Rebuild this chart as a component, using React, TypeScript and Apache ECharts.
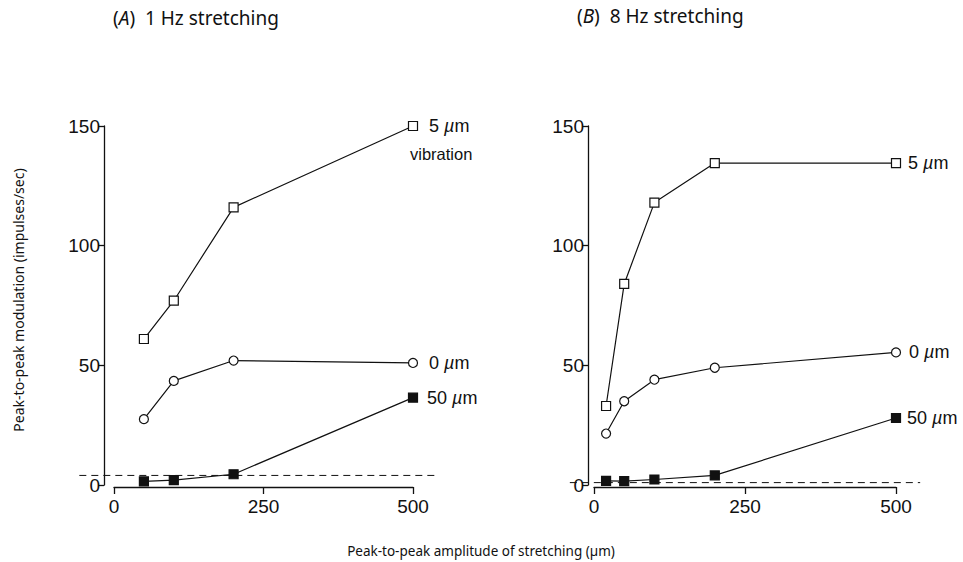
import React, { useEffect, useRef } from "react";
import * as echarts from "echarts";

// Panel A: 1 Hz stretching
const stretchA = [50, 100, 200, 500];
const a5um = [61, 77, 116, 150];
const a0um = [27.5, 43.5, 52, 51];
const a50um = [1.5, 2, 4.5, 36.5];
const baselineA = 4;
const baselineSpanA = [-58, 543];

// Panel B: 8 Hz stretching
const stretchB = [20, 50, 100, 200, 500];
const b5um = [33, 84, 118, 134.5, 134.5];
const b0um = [21.5, 35, 44, 49, 55.4];
const b50um = [1.7, 1.6, 2.3, 4, 28];
const baselineB = 1;
const baselineSpanB = [-40, 540];

const xTicks = [0, 250, 500];
const yTicks = [0, 50, 100, 150];
const seriesNames = ["5 µm", "0 µm", "50 µm"];
const panelTitles = ["(A)  1 Hz stretching", "(B)  8 Hz stretching"];
const yLabel = "Peak-to-peak modulation (impulses/sec)";
const xLabel = "Peak-to-peak amplitude of stretching (µm)";

const INK = "#111";
const SANS = "'Liberation Sans', Arial, sans-serif";
const HUM = "'Noto Sans', 'Open Sans', sans-serif";

function pairs(xs: number[], ys: number[], name: string, dist: number) {
  return ys.map((y, i) => {
    if (i === ys.length - 1) {
      const [num] = name.split(" ");
      return {
        value: [xs[i], y],
        label: {
          show: true,
          position: "right",
          distance: dist,
          formatter: `{n|${num} }{i|µ}{n|m}`,
          rich: {
            n: { fontFamily: SANS, fontSize: 18, color: INK },
            i: { fontFamily: SANS, fontSize: 18, color: INK, fontStyle: "italic" },
          },
        },
      };
    }
    return { value: [xs[i], y] };
  });
}

function lineSeries(idx: number, xs: number[], ys: number[], kind: string, name: string, dist: number) {
  const filled = kind === "filled";
  return {
    type: "line",
    xAxisIndex: idx,
    yAxisIndex: idx,
    data: pairs(xs, ys, name, dist),
    symbol: kind === "circle" ? "circle" : "rect",
    symbolSize: 9,
    lineStyle: { color: INK, width: 1.2 },
    itemStyle: { color: filled ? INK : "#fff", borderColor: INK, borderWidth: 1.2 },
    z: 3,
  };
}

export default function App() {
  const ref = useRef<HTMLDivElement>(null);
  useEffect(() => {
    if (!ref.current) return;
    const chart = echarts.init(ref.current, null, { renderer: "svg" });
    const xAxisBase = {
      type: "value",
      min: xTicks[0],
      max: xTicks[xTicks.length - 1],
      interval: 250,
      offset: 2,
      splitLine: { show: false },
      axisLine: { onZero: false, lineStyle: { color: INK, width: 1.3 } },
      axisTick: { inside: false, length: 7, lineStyle: { color: INK, width: 1.3 } },
      axisLabel: { color: INK, fontFamily: SANS, fontSize: 19, margin: 10 },
    };
    const yAxisBase = {
      type: "value",
      min: yTicks[0],
      max: yTicks[yTicks.length - 1],
      interval: 50,
      splitLine: { show: false },
      axisLine: { show: true, onZero: false, lineStyle: { color: INK, width: 1.3 } },
      axisTick: { show: true, inside: false, length: 6, lineStyle: { color: INK, width: 1.3 } },
      axisLabel: { color: INK, fontFamily: SANS, fontSize: 19, margin: 4 },
    };
    const titleRich = {
      n: { fontFamily: HUM, fontSize: 19, fill: INK, color: INK },
      i: { fontFamily: HUM, fontSize: 19, fontStyle: "italic", fill: INK, color: INK },
    };
    chart.setOption({
      animation: false,
      backgroundColor: "#fff",
      grid: [
        { left: 114, top: 126, width: 299, height: 359 },
        { left: 594, top: 126, width: 302, height: 359 },
      ],
      xAxis: [
        { ...xAxisBase, gridIndex: 0 },
        { ...xAxisBase, gridIndex: 1 },
      ],
      yAxis: [
        { ...yAxisBase, gridIndex: 0, offset: 10 },
        { ...yAxisBase, gridIndex: 1, offset: 6 },
      ],
      series: [
        lineSeries(0, stretchA, a5um, "square", seriesNames[0], 11),
        lineSeries(0, stretchA, a0um, "circle", seriesNames[1], 11),
        lineSeries(0, stretchA, a50um, "filled", seriesNames[2], 9),
        lineSeries(1, stretchB, b5um, "square", seriesNames[0], 7),
        lineSeries(1, stretchB, b0um, "circle", seriesNames[1], 8),
        lineSeries(1, stretchB, b50um, "filled", seriesNames[2], 6),
      ],
      graphic: [
        {
          id: "titleA",
          type: "text",
          left: 113,
          top: 8,
          style: {
            text: `{n|(}{i|A}{n|${panelTitles[0].slice(2)}}`,
            rich: titleRich,
          },
        },
        {
          id: "titleB",
          type: "text",
          left: 577,
          top: 6,
          style: {
            text: `{n|(}{i|B}{n|${panelTitles[1].slice(2)}}`,
            rich: titleRich,
          },
        },
        {
          id: "vib",
          type: "text",
          x: 410,
          y: 154,
          style: {
            text: "vibration",
            font: `16.5px ${SANS}`,
            fill: INK,
            textVerticalAlign: "middle",
          },
        },
        {
          id: "ylab",
          type: "text",
          x: 18,
          y: 300,
          rotation: Math.PI / 2,
          style: {
            text: yLabel,
            font: `14px ${HUM}`,
            fill: INK,
            textAlign: "center",
            textVerticalAlign: "middle",
          },
        },
        {
          id: "xlab",
          type: "text",
          x: 481,
          y: 551,
          style: {
            text: xLabel,
            font: `13.5px ${HUM}`,
            fill: INK,
            textAlign: "center",
            textVerticalAlign: "middle",
          },
        },
      ],
    });
    // Dashed baselines, positioned through the chart's own scales
    const dash = (idx: number, y: number, span: number[], id: string) => {
      const p0 = chart.convertToPixel({ xAxisIndex: idx, yAxisIndex: idx }, [span[0], y]) as number[];
      const p1 = chart.convertToPixel({ xAxisIndex: idx, yAxisIndex: idx }, [span[1], y]) as number[];
      return {
        id,
        type: "line",
        z: 2,
        silent: true,
        shape: { x1: p0[0], y1: p0[1], x2: p1[0], y2: p1[1] },
        style: { stroke: INK, lineWidth: 1, lineDash: [7, 5] },
      };
    };
    chart.setOption({
      graphic: [dash(0, baselineA, baselineSpanA, "dashA"), dash(1, baselineB, baselineSpanB, "dashB")],
    });
    return () => chart.dispose();
  }, []);
  return <div ref={ref} style={{ width: 963, height: 562, position: "absolute", left: 0, top: 0 }} />;
}
